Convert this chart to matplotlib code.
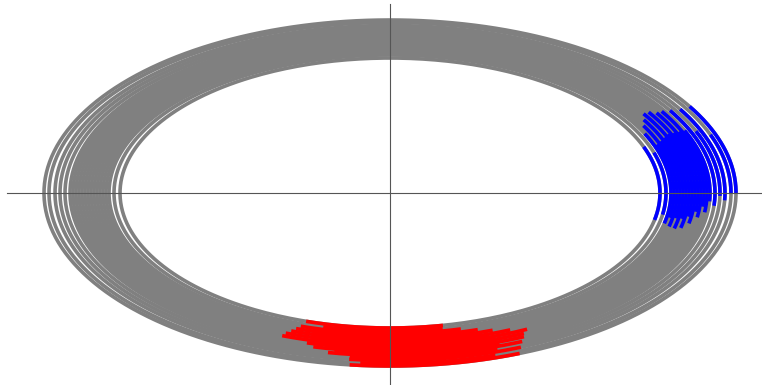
import matplotlib
matplotlib.use("Agg")
import matplotlib.pyplot as plt
import numpy as np

# semi-major axis of every ring (semi-minor is half of it)
ring_a = [346, 341, 335, 330, 325, 320, 317, 314, 311, 308, 305, 302,
          299, 296, 293, 290, 287, 284, 281, 276, 270]
ratio = 0.5

# highlighted part of each ring, angles in degrees
blue_start = [30, 20, 30, 22, 30.5, 23, 31, 23, 31, 23, 32, 23,
              32, 22, 30, 21, 28, 20, 25, 17, 20]
blue_end = [0, 0, -2.5, -1, -4.5, -3, -7, -5, -9, -7, -11.5, -9,
            -13.5, -10, -14, -10, -13.5, -10, -12.5, -9, -11.5]

red_start = [263.3, 265, 263, 263, 259, 260, 256, 258, 254.5, 256, 249.3, 255,
             249.6, 255, 250.3, 255, 250.9, 255, 251.5, 256, 251.9]
red_end = [292, 288, 293, 289, 294, 290, 295, 290, 295.5, 290, 296.7, 289,
           293.7, 288, 290.5, 286, 287.8, 284, 284.6, 281, 281.3]


def arc(ax, a, t0, t1, color, lw=2.6):
    t = np.radians(np.linspace(t0, t1, 400))
    ax.plot(a * np.cos(t), a * ratio * np.sin(t), color=color, lw=lw,
            solid_capstyle="butt")


fig = plt.figure(figsize=(7.62, 3.85), dpi=100)
ax = fig.add_axes([7 / 762, 0, 755 / 762, 381 / 385])

for a in ring_a:
    arc(ax, a, 0, 360, "gray")
for a, s, e in zip(ring_a, blue_start, blue_end):
    arc(ax, a, s, e, "blue")
for a, s, e in zip(ring_a, red_start, red_end):
    arc(ax, a, s, e, "red")

ax.set_xlim(-383, 372)
ax.set_ylim(-192, 189)
for side in ["top", "right"]:
    ax.spines[side].set_visible(False)
for side in ["left", "bottom"]:
    ax.spines[side].set_position(("data", 0))
    ax.spines[side].set_color("#555555")
    ax.spines[side].set_linewidth(0.8)
ax.set_xticks([])
ax.set_yticks([])
ax.patch.set_alpha(0)

fig.savefig("out.png", dpi=100)
